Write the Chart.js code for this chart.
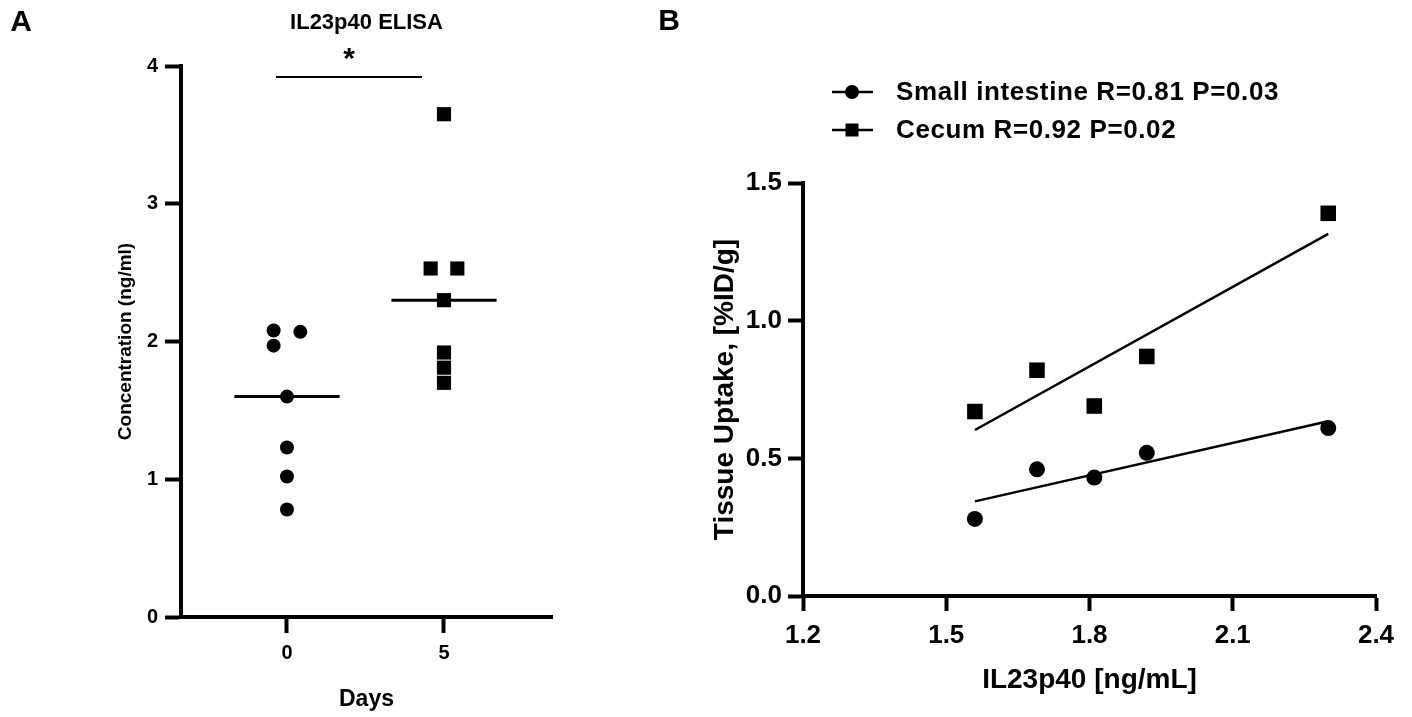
<!DOCTYPE html>
<html>
<head>
<meta charset="utf-8">
<title>IL23p40 ELISA and tissue uptake</title>
<script src="https://cdn.jsdelivr.net/npm/chart.js@4.4.1/dist/chart.umd.min.js"></script>
<style>
    html, body { margin: 0; padding: 0; background: #fff; }
    #wrap { position: relative; width: 1412px; height: 717px; overflow: hidden; }
    #elisaChart { position: absolute; left: 0; top: 0; }
    #uptakeChart { position: absolute; left: 640px; top: 0; }
</style>
</head>
<body>
<div id="wrap">
    <canvas id="elisaChart" width="600" height="717"></canvas>
    <canvas id="uptakeChart" width="772" height="717"></canvas>
</div>
<script>
// ---- Panel A data: IL23p40 ELISA ----
const dayLabels = ["0", "5"];
const day0Conc = [2.08, 2.07, 1.97, 1.60, 1.23, 1.02, 0.78];
const day5Conc = [3.65, 2.53, 2.53, 2.30, 1.92, 1.81, 1.70];
const concTicks = [0, 1, 2, 3, 4];

// ---- Panel B data: tissue uptake vs IL23p40 ----
const il23SmallInt = [1.56, 1.69, 1.81, 1.92, 2.30];
const uptakeSmallInt = [0.28, 0.46, 0.43, 0.52, 0.61];
const il23Cecum = [1.56, 1.69, 1.81, 1.92, 2.30];
const uptakeCecum = [0.67, 0.82, 0.69, 0.87, 1.39];
const il23Ticks = [1.2, 1.5, 1.8, 2.1, 2.4];
const uptakeTicks = [0, 0.5, 1.0, 1.5];
const seriesNames = ["Small intestine R=0.81 P=0.03", "Cecum R=0.92 P=0.02"];

// layout bits (not data): sideways spread of touching points, median bar half width
const day0Spread = [-1, 1, -1, 0, 0, 0, 0];
const day5Spread = [0, -1, 1, 0, 0, 0, 0];
const spreadStep = 0.085;
const medianHalf = 0.335;

Chart.defaults.font.family = "'Liberation Sans', Arial, sans-serif";
Chart.defaults.font.weight = "bold";
Chart.defaults.color = "#000";

function median(vals) {
    const s = [...vals].sort((a, b) => a - b);
    return s[Math.floor(s.length / 2)];
}

function fitLine(xs, ys) {
    const n = xs.length;
    const mx = xs.reduce((a, b) => a + b, 0) / n;
    const my = ys.reduce((a, b) => a + b, 0) / n;
    let sxy = 0, sxx = 0;
    for (let i = 0; i < n; i++) {
        sxy += (xs[i] - mx) * (ys[i] - my);
        sxx += (xs[i] - mx) * (xs[i] - mx);
    }
    const slope = sxy / sxx;
    const b = my - slope * mx;
    const x0 = Math.min(...xs), x1 = Math.max(...xs);
    return [{ x: x0, y: b + slope * x0 }, { x: x1, y: b + slope * x1 }];
}

function fixedTicks(values) {
    return (scale) => { scale.ticks = values.map(v => ({ value: v })); };
}

// significance bar between the groups
const sigLevel = 3.92;
const sigFrom = -0.07;
const sigTo = 0.86;

const panelAPlugin = {
    id: "panelA",
    afterDraw(chart) {
        const ctx = chart.ctx;
        const area = chart.chartArea;
        const { x, y } = chart.scales;
        ctx.save();
        ctx.fillStyle = "#000";
        ctx.textAlign = "center";
        ctx.textBaseline = "middle";
        ctx.font = "bold 30px 'Liberation Sans', Arial";
        ctx.fillText("A", 21, 23);
        ctx.font = "bold 22px 'Liberation Sans', Arial";
        ctx.fillText("IL23p40 ELISA", (area.left + area.right) / 2, 23);
        ctx.font = "bold 30px 'Liberation Sans', Arial";
        ctx.fillText("*", x.getPixelForValue((sigFrom + sigTo) / 2), y.getPixelForValue(sigLevel) - 17);
        ctx.restore();
    }
};

const m0 = median(day0Conc);
const m5 = median(day5Conc);

new Chart(document.getElementById("elisaChart"), {
    type: "scatter",
    data: {
        datasets: [
            {
                data: day0Conc.map((v, i) => ({ x: 0 + day0Spread[i] * spreadStep, y: v })),
                pointStyle: "circle",
                pointRadius: 7,
                backgroundColor: "#000",
                borderWidth: 0
            },
            {
                data: day5Conc.map((v, i) => ({ x: 1 + day5Spread[i] * spreadStep, y: v })),
                pointStyle: "rect",
                pointRadius: 10,
                backgroundColor: "#000",
                borderWidth: 0
            },
            {
                data: [{ x: -medianHalf, y: m0 }, { x: medianHalf, y: m0 }],
                showLine: true, pointRadius: 0, borderColor: "#000", borderWidth: 3
            },
            {
                data: [{ x: 1 - medianHalf, y: m5 }, { x: 1 + medianHalf, y: m5 }],
                showLine: true, pointRadius: 0, borderColor: "#000", borderWidth: 3
            },
            {
                data: [{ x: sigFrom, y: sigLevel }, { x: sigTo, y: sigLevel }],
                showLine: true, pointRadius: 0, borderColor: "#000", borderWidth: 2
            }
        ]
    },
    options: {
        responsive: false,
        animation: false,
        devicePixelRatio: 1,
        layout: { padding: { left: 0, top: 66, right: 48, bottom: 0 } },
        plugins: { legend: { display: false }, tooltip: { enabled: false } },
        scales: {
            x: {
                type: "linear",
                min: -0.675,
                max: 1.688,
                afterBuildTicks: fixedTicks([0, 1]),
                afterFit: (s) => { s.height = 100; },
                ticks: {
                    callback: (v) => dayLabels[Math.round(v)],
                    font: { size: 20, weight: "bold" },
                    padding: 8
                },
                grid: { drawOnChartArea: false, tickLength: 16, tickWidth: 4, tickColor: "#000" },
                border: { width: 4, color: "#000" },
                title: { display: true, text: "Days", font: { size: 23, weight: "bold" }, padding: { top: 0, bottom: 4 } }
            },
            y: {
                min: 0,
                max: 4,
                afterBuildTicks: fixedTicks(concTicks),
                afterFit: (s) => { s.width = 181; },
                ticks: { font: { size: 20, weight: "bold" }, padding: 7 },
                grid: { drawOnChartArea: false, tickLength: 16, tickWidth: 4, tickColor: "#000" },
                border: { width: 4, color: "#000" },
                title: { display: true, text: "Concentration (ng/ml)", font: { size: 19, weight: "bold" }, padding: { top: 114, bottom: 0 } }
            }
        }
    },
    plugins: [panelAPlugin]
});

// ---- Panel B ----
const fitSmallInt = fitLine(il23SmallInt, uptakeSmallInt);
const fitCecum = fitLine(il23Cecum, uptakeCecum);

const panelBPlugin = {
    id: "panelB",
    afterDraw(chart) {
        const ctx = chart.ctx;
        ctx.save();
        ctx.fillStyle = "#000";
        ctx.strokeStyle = "#000";
        ctx.textBaseline = "middle";
        ctx.textAlign = "center";
        ctx.font = "bold 30px 'Liberation Sans', Arial";
        ctx.fillText("B", 29, 22);
        // legend
        ctx.textAlign = "left";
        ctx.font = "bold 26px 'Liberation Sans', Arial";
        ctx.letterSpacing = "0.6px";
        seriesNames.forEach((name, i) => {
            const yy = 92 + i * 38;
            ctx.lineWidth = 2.5;
            ctx.beginPath();
            ctx.moveTo(192, yy);
            ctx.lineTo(233, yy);
            ctx.stroke();
            if (i === 0) {
                ctx.beginPath();
                ctx.arc(212, yy, 7, 0, Math.PI * 2);
                ctx.fill();
            } else {
                ctx.fillRect(205.5, yy - 6.5, 13, 13);
            }
            ctx.fillText(name, 256, yy + 1);
        });
        ctx.restore();
    }
};

new Chart(document.getElementById("uptakeChart"), {
    type: "scatter",
    data: {
        datasets: [
            {
                label: seriesNames[0],
                data: il23SmallInt.map((v, i) => ({ x: v, y: uptakeSmallInt[i] })),
                pointStyle: "circle",
                pointRadius: 8,
                backgroundColor: "#000",
                borderWidth: 0
            },
            {
                label: seriesNames[1],
                data: il23Cecum.map((v, i) => ({ x: v, y: uptakeCecum[i] })),
                pointStyle: "rect",
                pointRadius: 11,
                backgroundColor: "#000",
                borderWidth: 0
            },
            {
                data: fitSmallInt,
                showLine: true, pointRadius: 0, borderColor: "#000", borderWidth: 2.5
            },
            {
                data: fitCecum,
                showLine: true, pointRadius: 0, borderColor: "#000", borderWidth: 2.5
            }
        ]
    },
    options: {
        responsive: false,
        animation: false,
        devicePixelRatio: 1,
        layout: { padding: { left: 0, top: 183, right: 36, bottom: 0 } },
        plugins: { legend: { display: false }, tooltip: { enabled: false } },
        scales: {
            x: {
                type: "linear",
                min: 1.2,
                max: 2.4,
                afterBuildTicks: fixedTicks(il23Ticks),
                afterFit: (s) => { s.height = 121; },
                ticks: {
                    callback: (v) => v.toFixed(1),
                    font: { size: 26, weight: "bold" },
                    padding: 9
                },
                grid: { drawOnChartArea: false, tickLength: 15, tickWidth: 4, tickColor: "#000" },
                border: { width: 4, color: "#000" },
                title: { display: true, text: "IL23p40 [ng/mL]", font: { size: 28, weight: "bold" }, padding: { top: 0, bottom: 20 } }
            },
            y: {
                min: 0,
                max: 1.5,
                afterBuildTicks: fixedTicks(uptakeTicks),
                afterFit: (s) => { s.width = 163; },
                ticks: {
                    callback: (v) => v.toFixed(1),
                    font: { size: 26, weight: "bold" },
                    padding: 6
                },
                grid: { drawOnChartArea: false, tickLength: 15, tickWidth: 4, tickColor: "#000" },
                border: { width: 4, color: "#000" },
                title: { display: true, text: "Tissue Uptake, [%ID/g]", font: { size: 28, weight: "bold" }, padding: { top: 68, bottom: 0 } }
            }
        }
    },
    plugins: [panelBPlugin]
});
</script>
</body>
</html>
